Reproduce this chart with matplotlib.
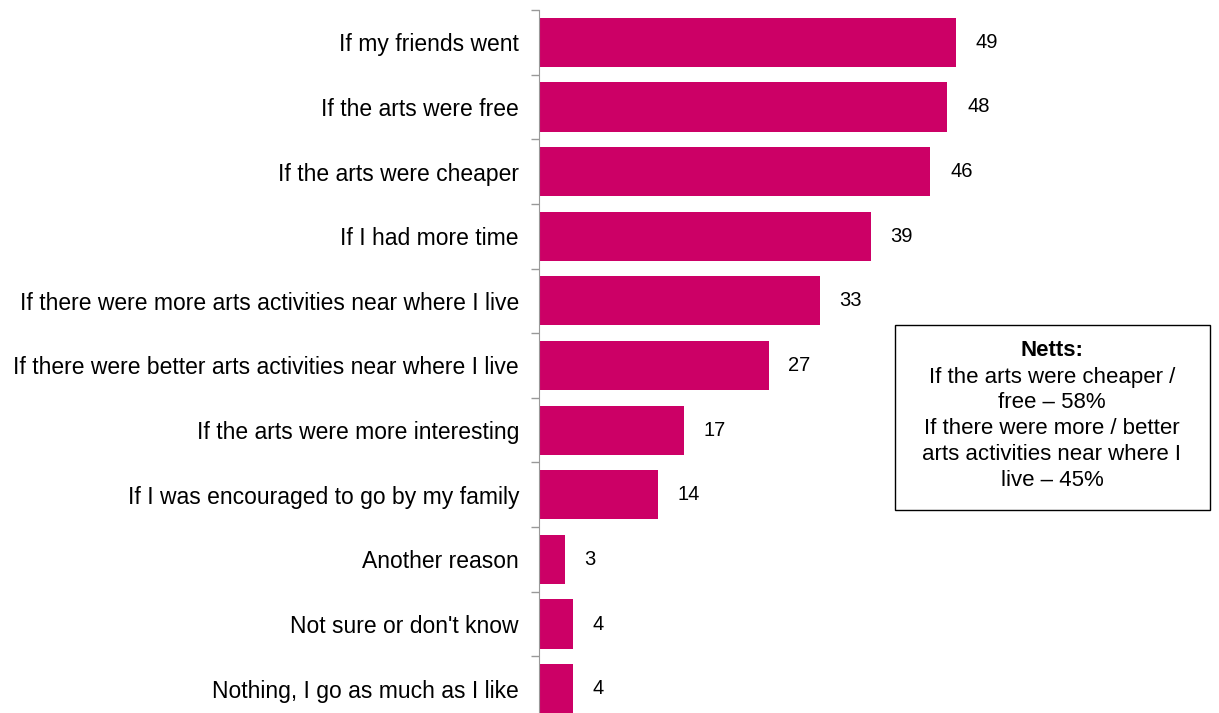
import numpy as np
import matplotlib.pyplot as plt

plt.rcParams['font.family'] = ['Liberation Sans', 'DejaVu Sans']

categories = [
    "If my friends went",
    "If the arts were free",
    "If the arts were cheaper",
    "If I had more time",
    "If there were more arts activities near where I live",
    "If there were better arts activities near where I live",
    "If the arts were more interesting",
    "If I was encouraged to go by my family",
    "Another reason",
    "Not sure or don't know",
    "Nothing, I go as much as I like",
]
values = [49, 48, 46, 39, 33, 27, 17, 14, 3, 4, 4]

netts_title = "Netts:"
netts_lines = [
    "If the arts were cheaper /",
    "free \u2013 58%",
    "If there were more / better",
    "arts activities near where I",
    "live \u2013 45%",
]

fig = plt.figure(figsize=(12.19, 7.13), dpi=100)
# axes: left edge at x=539px, spans y=10px .. ~721px (bottom cut off by figure)
ax = fig.add_axes([539 / 1219, -8 / 713, 680 / 1219, 711 / 713])

y = np.arange(len(categories))
ax.barh(y, values, height=0.76, color='#CC0066')
for yi, v in zip(y, values):
    ax.text(v + 2.3, yi, str(v), va='center', ha='left', fontsize=14.5)

ax.set_xlim(0, 680 / 8.51)
ax.set_ylim(len(categories) - 0.5, -0.5)

ax.set_yticks(y)
ax.set_yticklabels(categories, fontsize=16.5)
ax.tick_params(axis='y', which='major', length=0, pad=14.4)
ax.set_yticks(np.arange(-0.5, len(categories), 1), minor=True)
ax.tick_params(axis='y', which='minor', length=6, color='#999999', width=1)
ax.set_xticks([])

for s in ['top', 'right', 'bottom']:
    ax.spines[s].set_visible(False)
ax.spines['left'].set_color('#999999')

# Netts box
fig.patches.append(plt.Rectangle((895 / 1219, 1 - 510 / 713), 315 / 1219, 185 / 713,
                                 transform=fig.transFigure, fill=False,
                                 edgecolor='black', linewidth=1))
cx = 1052 / 1219
fig.text(cx, 1 - 351 / 713, netts_title, ha='center', va='center',
         fontsize=16, fontweight='bold')
for i, line in enumerate(netts_lines):
    fig.text(cx, 1 - (377 + 26 * i) / 713, line, ha='center', va='center',
             fontsize=16)

fig.savefig('out.png', dpi=100)
